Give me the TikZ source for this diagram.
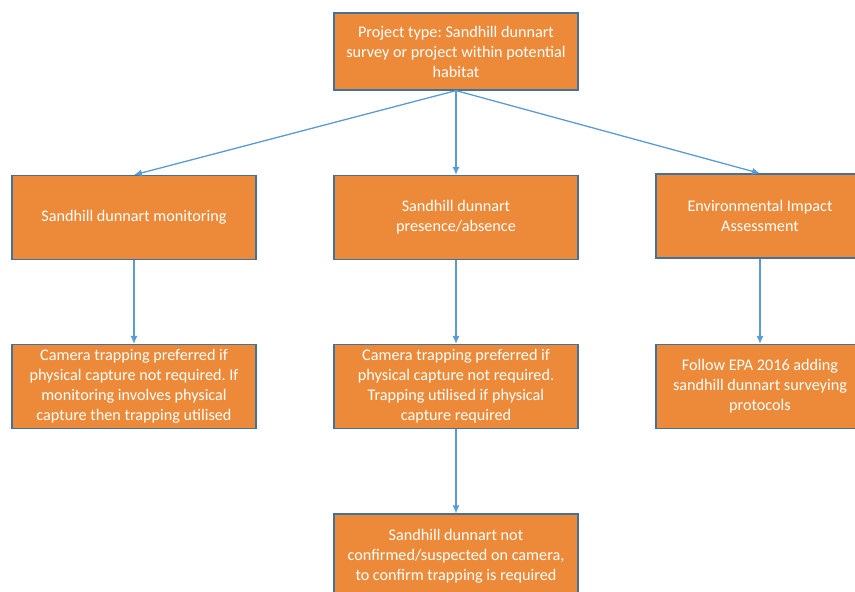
\documentclass[tikz,border=0pt]{standalone}
\usepackage{fontspec}
\setmainfont{Carlito}
\frenchspacing
\usetikzlibrary{arrows.meta}
\definecolor{boxfill}{HTML}{ED8A3A}
\definecolor{boxline}{HTML}{41719C}
\definecolor{arrowblue}{HTML}{5B9BD5}
\tikzstyle{box}=[draw=boxline, fill=boxfill, line width=1.2pt, text=white, align=center, inner sep=0pt, minimum width=244pt, minimum height=84pt, font=\fontsize{16.2}{20}\selectfont]
\tikzstyle{link}=[draw=arrowblue, line width=1.3pt, -{Latex[length=8pt,width=7pt]}]

\begin{document}
\begin{tikzpicture}[x=1pt, y=-1pt]
    \useasboundingbox (0,0) rectangle (855,592);
    \clip (0,0) rectangle (855,592);
% Top
    \node[box, minimum height=77pt] (project) at (456,51.5) {Project type: Sandhill dunnart\\survey or project within potential\\habitat};
% Survey kinds
    \node[box] (monitoring) at (134,217.5) {Sandhill dunnart monitoring};
    \node[box] (presence) at (456,217.5) {Sandhill dunnart\\presence/absence};
    \node[box, minimum width=208pt] (eia) at (760,216) {Environmental Impact\\Assessment};
% Methods
    \node[box] (monmethod) at (134,386.5) {Camera trapping preferred if\\physical capture not required. If\\monitoring involves physical\\capture then trapping utilised};
    \node[box] (presmethod) at (456,386.5) {Camera trapping preferred if\\physical capture not required.\\Trapping utilised if physical\\capture required};
    \node[box, minimum width=208pt] (epa) at (760,386.5) {Follow EPA 2016 adding\\sandhill dunnart surveying\\protocols};
% Follow-up
    \node[box] (confirm) at (456,556) {Sandhill dunnart not\\confirmed/suspected on camera,\\to confirm trapping is required};
% Arrows
    \draw[link] (project.south) -- (monitoring.north);
    \draw[link] (project.south) -- (presence.north);
    \draw[link] (project.south) -- (eia.north);
    \draw[link] (monitoring.south) -- (monmethod.north);
    \draw[link] (presence.south) -- (presmethod.north);
    \draw[link] (eia.south) -- (epa.north);
    \draw[link] (presmethod.south) -- (confirm.north);
\end{tikzpicture}
\end{document}
